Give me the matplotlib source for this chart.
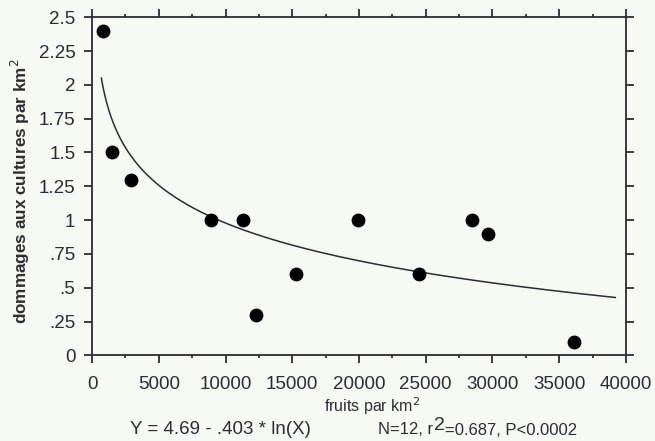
import numpy as np
import matplotlib.pyplot as plt
from matplotlib.ticker import MultipleLocator

plt.rcParams['font.family'] = ['Liberation Sans', 'DejaVu Sans']

# données
fruits = [800, 1500, 2900, 8900, 11300, 12300, 15300, 19900, 24500, 28500, 29700, 36100]
dommages = [2.4, 1.5, 1.3, 1.0, 1.0, 0.3, 0.6, 1.0, 0.6, 1.0, 0.9, 0.1]

# régression Y = a + b*ln(X)
a_fit = 4.69
b_fit = -0.403
x_debut, x_fin = 700, 39200

yticks = [0, 0.25, 0.5, 0.75, 1, 1.25, 1.5, 1.75, 2, 2.25, 2.5]
ylabels = ['0', '.25', '.5', '.75', '1', '1.25', '1.5', '1.75', '2', '2.25', '2.5']
xticks = [0, 5000, 10000, 15000, 20000, 25000, 30000, 35000, 40000]

bg = '#f7faf3'
ink = '#2e2b33'

fig = plt.figure(figsize=(6.55, 4.41), dpi=100, facecolor=bg)
ax = fig.add_axes([0.1405, 0.1943, 0.8152, 0.7665])
ax.set_facecolor(bg)

xs = np.geomspace(x_debut, x_fin, 60)
ax.plot(xs, a_fit + b_fit * np.log(xs), color=ink, lw=1.1)
ax.scatter(fruits, dommages, s=80, color='black', zorder=3)

ax.set_xlim(0, 40000)
ax.set_ylim(0, 2.5)
ax.set_xticks(xticks)
ax.set_xticklabels([str(t) for t in xticks])
ax.xaxis.set_minor_locator(MultipleLocator(2500))
ax.set_yticks(yticks)
ax.set_yticklabels(ylabels)

for s in ax.spines.values():
    s.set_color(ink)
    s.set_linewidth(1.3)

ax.tick_params(axis='both', which='both', direction='out', color=ink, width=1.3,
               labelcolor=ink, labelsize=13.5, top=True, right=True)
ax.tick_params(axis='both', which='major', length=6)
ax.tick_params(axis='both', which='minor', length=2.5)
ax.tick_params(axis='x', pad=9)
ax.tick_params(axis='y', pad=6)

ax.set_ylabel('dommages aux cultures par km$^{2}$', fontsize=12.3, fontweight='bold',
              color=ink)
ax.yaxis.set_label_coords(-0.113, 0.486)
ax.set_xlabel('fruits par km$^{2}$', fontsize=11.5, color=ink)
ax.xaxis.set_label_coords(0.524, -0.118)

fig.text(0.199, 0.025, 'Y = 4.69 - .403 * ln(X)', fontsize=13.5, color=ink, va='center')
t1 = fig.text(0.577, 0.025, 'N=12, r', fontsize=12, color=ink, va='center')
t2 = plt.annotate('2', xy=(1, 0.2), xycoords=t1, xytext=(1, 0), textcoords='offset points',
                  fontsize=14, color=ink, va='bottom')
plt.annotate('=0.687, P<0.0002', xy=(1, 0), xycoords=t2, xytext=(0, -2.6),
             textcoords='offset points', fontsize=12, color=ink, va='bottom')

fig.savefig('out.png', dpi=100, facecolor=bg)
